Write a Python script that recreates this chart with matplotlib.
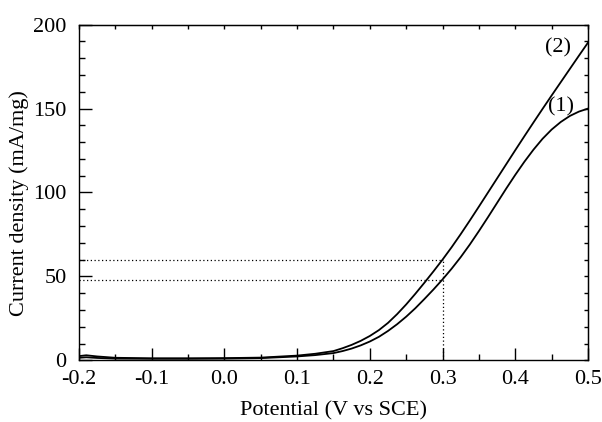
import matplotlib
matplotlib.use('Agg')
import matplotlib.pyplot as plt
from matplotlib.ticker import MultipleLocator

plt.rcParams['font.family'] = 'serif'
plt.rcParams['font.serif'] = ['Liberation Serif', 'DejaVu Serif']
plt.rcParams['font.size'] = 16

# 电位 (V vs SCE)
potential = [-0.200, -0.190, -0.175, -0.150, -0.100, -0.050, 0.000, 0.050,
             0.100, 0.125, 0.150, 0.1625, 0.175, 0.1875, 0.200, 0.2125,
             0.225, 0.2375, 0.250, 0.2625, 0.275, 0.2875, 0.300, 0.3125,
             0.325, 0.3375, 0.350, 0.3625, 0.375, 0.3875, 0.400, 0.4125,
             0.425, 0.4375, 0.450, 0.4625, 0.475, 0.4875, 0.500]

# 曲线 (1)
current_1 = [1.5, 1.8, 1.4, 1.0, 0.9, 0.9, 1.0, 1.3,
             2.3, 3.1, 4.3, 5.5, 7.0, 8.9, 11.2, 14.0,
             17.5, 21.5, 26.0, 31.0, 36.5, 42.2, 48.2, 54.6,
             61.5, 69.0, 77.0, 85.3, 93.8, 102.3, 110.5, 118.3,
             125.5, 132.0, 137.5, 142.0, 145.6, 148.2, 150.0]

# 曲线 (2)
current_2 = [2.5, 3.0, 2.3, 1.5, 1.2, 1.2, 1.3, 1.6,
             2.8, 3.9, 5.5, 7.2, 9.2, 11.6, 14.5, 18.0,
             22.3, 27.5, 33.3, 39.6, 46.2, 53.0, 60.0, 67.4,
             75.2, 83.3, 91.6, 100.0, 108.4, 116.8, 125.2, 133.5,
             141.7, 149.8, 157.8, 165.7, 173.6, 181.5, 189.3]

curve_labels = ['(1)', '(2)']
label_pos = [(0.463, 151), (0.459, 186)]

# 0.3 V 处的电流密度
mark_x = 0.3
mark_y = [48, 60]

fig = plt.figure(figsize=(6.02, 4.22), dpi=100)
ax = fig.add_axes([0.1312, 0.1462, 0.8455, 0.7953])

ax.plot(potential, current_1, color='black', lw=1.3)
ax.plot(potential, current_2, color='black', lw=1.3)

for lab, (lx, ly) in zip(curve_labels, label_pos):
    ax.text(lx, ly, lab, ha='center', va='center', fontsize=16)

# 辅助虚线
for yv in mark_y:
    ax.plot([-0.2, mark_x], [yv, yv], color='black', lw=0.9,
            linestyle=(0, (1, 2)))
ax.plot([mark_x, mark_x], [0, max(mark_y)], color='black', lw=0.9,
        linestyle=(0, (1, 2)))

ax.set_xlim(-0.2, 0.5)
ax.set_ylim(0, 200)
ax.xaxis.set_major_locator(MultipleLocator(0.1))
ax.xaxis.set_minor_locator(MultipleLocator(0.05))
ax.yaxis.set_major_locator(MultipleLocator(50))
ax.yaxis.set_minor_locator(MultipleLocator(10))
ax.xaxis.set_major_formatter(plt.FuncFormatter(lambda v, p: f'{v:.1f}'))

ax.tick_params(which='major', direction='in', length=9, width=1, pad=7)
ax.tick_params(which='minor', direction='in', length=4.5, width=1)
ax.tick_params(axis='y', which='major', pad=9)

# 上、右边框的短刻度
top = ax.secondary_xaxis('top')
top.xaxis.set_major_locator(MultipleLocator(0.05))
top.tick_params(direction='in', length=3, width=1, labeltop=False)
right = ax.secondary_yaxis('right')
right.yaxis.set_major_locator(MultipleLocator(10))
right.tick_params(direction='in', length=3, width=1, labelright=False)

for s in ax.spines.values():
    s.set_linewidth(1)

ax.set_xlabel('Potential (V vs SCE)', labelpad=9)
ax.set_ylabel('Current density (mA/mg)')
ax.yaxis.set_label_coords(-0.098, 0.47)

fig.savefig('out.png', dpi=100, facecolor='white')
